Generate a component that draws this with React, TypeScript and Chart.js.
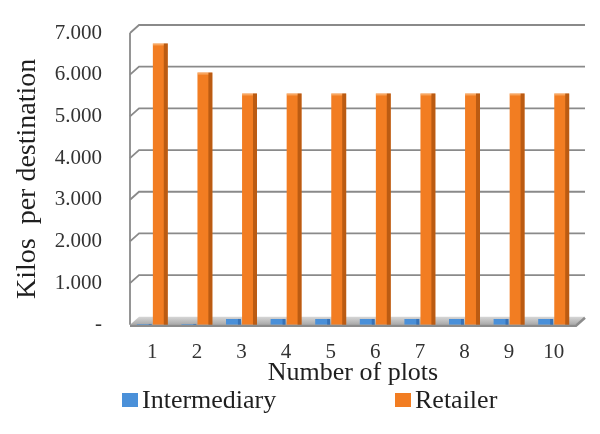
import { useEffect, useRef } from 'react';
import { Chart, registerables } from 'chart.js';

Chart.register(...registerables);

const categories = ['1', '2', '3', '4', '5', '6', '7', '8', '9', '10'];
const intermediary = [20, 20, 140, 140, 140, 140, 140, 140, 140, 140];
const retailer = [6750, 6050, 5550, 5550, 5550, 5550, 5550, 5550, 5550, 5550];
const seriesNames = ['Intermediary', 'Retailer'];
const seriesColors = ['#4A90D9', '#F27D22'];
const yMax = 7000;
const yStep = 1000;
const xTitle = 'Number of plots';
const yTitle = 'Kilos  per destination';

const FONT = "'Liberation Serif', 'Times New Roman', serif";

function fmt(v: number): string {
  if (v === 0) return '-';
  const th = Math.floor(v / 1000);
  const rest = String(Math.round(v % 1000)).padStart(3, '0');
  return th > 0 ? `${th}.${rest}` : String(v);
}

const wallPlugin = {
  id: 'wall3d',
  beforeDatasetsDraw(chart: any) {
    const { ctx, chartArea, scales } = chart;
    const { left, right } = chartArea;
    const y = scales.y;
    const dx = 9;
    const dy = 8;
    ctx.save();
    ctx.strokeStyle = '#8a8a8a';
    ctx.lineWidth = 1.8;
    y.ticks.forEach((t: any) => {
      if (t.value === 0) return;
      const py = y.getPixelForValue(t.value);
      ctx.beginPath();
      ctx.moveTo(left, py);
      ctx.lineTo(left + dx, py - dy);
      ctx.lineTo(right + dx, py - dy);
      ctx.stroke();
    });
    const fy = y.getPixelForValue(0);
    ctx.beginPath();
    ctx.moveTo(left, y.getPixelForValue(y.max));
    ctx.lineTo(left, fy);
    ctx.stroke();
    // floor
    const g = ctx.createLinearGradient(0, fy - dy, 0, fy);
    g.addColorStop(0, '#d6d6d6');
    g.addColorStop(1, '#a8a8a8');
    ctx.fillStyle = g;
    ctx.beginPath();
    ctx.moveTo(left, fy);
    ctx.lineTo(left + dx, fy - dy);
    ctx.lineTo(right + dx, fy - dy);
    ctx.lineTo(right, fy);
    ctx.closePath();
    ctx.fill();
    ctx.strokeStyle = '#8c8c8c';
    ctx.lineWidth = 2.5;
    ctx.beginPath();
    ctx.moveTo(left, fy + 1);
    ctx.lineTo(right, fy + 1);
    ctx.lineTo(right + dx, fy - dy + 1);
    ctx.stroke();
    ctx.restore();
  },
  afterDatasetsDraw(chart: any) {
    const { ctx } = chart;
    ctx.save();
    chart.data.datasets.forEach((_: any, di: number) => {
      const meta = chart.getDatasetMeta(di);
      meta.data.forEach((el: any) => {
        const { x, y, width, base } = el.getProps(['x', 'y', 'width', 'base'], true);
        const h = base - y;
        if (h <= 0) return;
        if (di === 1) {
          ctx.fillStyle = 'rgba(120,50,0,0.45)';
          ctx.fillRect(x + width / 2 - 4, y, 4, h);
          ctx.fillStyle = 'rgba(255,215,170,0.45)';
          ctx.fillRect(x - width / 2, y, width - 4, 2);
        } else {
          ctx.fillStyle = 'rgba(20,60,120,0.35)';
          ctx.fillRect(x + width / 2 - 3, y, 3, h);
        }
      });
    });
    ctx.restore();
  },
  afterDraw(chart: any) {
    const { ctx } = chart;
    const items = [
      { label: seriesNames[0], color: seriesColors[0], bx: 122 },
      { label: seriesNames[1], color: seriesColors[1], bx: 395 },
    ];
    const cy = 400;
    ctx.save();
    ctx.font = `26px ${FONT}`;
    ctx.textBaseline = 'middle';
    ctx.textAlign = 'left';
    items.forEach((it) => {
      ctx.fillStyle = it.color;
      ctx.fillRect(it.bx, cy - 7, 16, 14);
      ctx.fillStyle = '#1f1f1f';
      ctx.fillText(it.label, it.bx + 20, cy + 1);
    });
    ctx.restore();
  },
};

export default function App() {
  const ref = useRef<HTMLCanvasElement | null>(null);
  useEffect(() => {
    if (!ref.current) return;
    const chart = new Chart(ref.current, {
      type: 'bar',
      data: {
        labels: categories,
        datasets: [
          {
            label: seriesNames[0],
            data: intermediary,
            backgroundColor: seriesColors[0],
            categoryPercentage: 0.72,
            barPercentage: 0.93,
          },
          {
            label: seriesNames[1],
            data: retailer,
            backgroundColor: seriesColors[1],
            categoryPercentage: 0.72,
            barPercentage: 0.93,
          },
        ],
      },
      options: {
        animation: false,
        responsive: true,
        maintainAspectRatio: false,
        layout: { padding: { left: 14, right: 24, top: 33, bottom: 48 } },
        plugins: {
          legend: { display: false },
          tooltip: { enabled: false },
        },
        scales: {
          x: {
            grid: { display: false, drawTicks: false },
            border: { display: false },
            ticks: { color: '#333', font: { family: FONT, size: 21 }, padding: 15, maxRotation: 0 },
            title: {
              display: true,
              text: xTitle,
              color: '#1f1f1f',
              font: { family: FONT, size: 26, lineHeight: 1 },
              padding: { top: -20, bottom: 0 },
            },
          },
          y: {
            min: 0,
            max: yMax,
            grid: { display: false, drawTicks: false },
            border: { display: false },
            ticks: {
              stepSize: yStep,
              color: '#333',
              font: { family: FONT, size: 21 },
              padding: 28,
              callback: (v: any) => fmt(Number(v)),
            },
            title: {
              display: true,
              text: yTitle,
              color: '#1f1f1f',
              font: { family: FONT, size: 28, lineHeight: 1 },
              padding: { top: 0, bottom: 0 },
            },
            afterFit: (scale: any) => {
              scale.width = 116;
              scale.paddingTop = 0;
              scale.paddingBottom = 0;
            },
          },
        },
      },
      plugins: [wallPlugin],
    });
    return () => chart.destroy();
  }, []);
  return (
    <div style={{ position: 'absolute', left: 0, top: 0, width: 600, height: 434, background: '#fff' }}>
      <canvas ref={ref} />
    </div>
  );
}
